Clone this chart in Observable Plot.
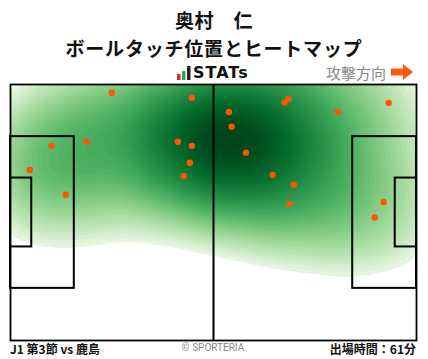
<!DOCTYPE html>
<html><head><meta charset="utf-8">
<script src="https://cdn.jsdelivr.net/npm/d3@7"></script>
<script src="https://cdn.jsdelivr.net/npm/@observablehq/plot@0.6"></script>
<style>
body{margin:0;background:#fff;font-family:"Noto Sans CJK JP","Noto Sans",sans-serif;}
#wrap{position:relative;width:428px;height:359px;overflow:hidden}
.t{position:absolute;white-space:nowrap;line-height:1}
#wrap svg{position:absolute;left:0;top:0}
</style></head><body><div id="wrap"></div>
<script>
// Ball touch positions (metres; x along pitch length 0-105, y across width 0-68 from top)
const touchX = [26.2, 46.9, 10.6, 19.7, 43.3, 46.9, 46.4, 44.8, 5.0, 14.3,
                56.5, 57.2, 70.9, 71.9, 84.6, 97.8, 60.9, 67.8, 73.3, 72.2, 96.5, 94.2];
const touchY = [2.2, 3.5, 16.3, 15.2, 15.2, 16.3, 20.8, 24.3, 22.7, 29.3,
                7.3, 11.2, 4.8, 3.8, 7.3, 4.9, 18.1, 24.0, 26.6, 31.7, 31.2, 35.3];
// Pitch geometry (metres)
const pitchLength = 105, pitchWidth = 68;
const boxX1 = [0, 88.5, 0, 99.5];
const boxX2 = [16.5, 105, 5.5, 105];
const boxY1 = [13.85, 13.85, 24.85, 24.85];
const boxY2 = [54.15, 54.15, 43.15, 43.15];

const touches = touchX.map((x, i) => ({x, y: touchY[i]}));
const boxes = boxX1.map((x1, i) => ({x1, x2: boxX2[i], y1: boxY1[i], y2: boxY2[i]}));

// heat colour ramp: below the cut-off stays white
const cut = 0.12;
const heat = t => t < cut ? "#ffffff" : d3.interpolateGreens(0.02 + 0.98 * Math.pow((t - cut) / (1 - cut), 0.6));

const W = 428, H = 359;
const plot = Plot.plot({
  width: W, height: H,
  marginLeft: 10, marginRight: 12, marginTop: 84, marginBottom: 19,
  x: {domain: [0, pitchLength], axis: null},
  y: {domain: [0, pitchWidth], reverse: true, axis: null},
  color: {type: "linear", interpolate: heat},
  style: {background: "transparent"},
  marks: [
    Plot.density(touches, {x: "x", y: "y", fill: "density", bandwidth: 46, thresholds: 60, clip: true}),
    Plot.rect(boxes, {x1: "x1", x2: "x2", y1: "y1", y2: "y2", fill: "none", stroke: "#000", strokeWidth: 2}),
    Plot.ruleX([pitchLength / 2], {stroke: "#000", strokeWidth: 2}),
    Plot.frame({stroke: "#000", strokeWidth: 1.8}),
    Plot.dot(touches, {x: "x", y: "y", r: 3.2, fill: "#ff5500", stroke: "none"})
  ]
});
const wrap = document.getElementById("wrap");
wrap.appendChild(plot);

function txt(s, x, y, size, opts = {}) {
  const d = document.createElement("div");
  d.className = "t";
  d.textContent = s;
  d.style.fontSize = size + "px";
  d.style.top = (y - size / 2) + "px";
  d.style.fontWeight = opts.weight || "bold";
  d.style.color = opts.color || "#111";
  if (opts.align === "center") { d.style.left = x + "px"; d.style.transform = "translateX(-50%)"; }
  else if (opts.align === "right") { d.style.right = (W - x) + "px"; }
  else d.style.left = x + "px";
  if (opts.family) d.style.fontFamily = opts.family;
  if (opts.ls) d.style.letterSpacing = opts.ls;
  wrap.appendChild(d);
  return d;
}
txt("奥村　仁", 214, 19, 19, {align: "center", ls: "0.5px"});
txt("ボールタッチ位置とヒートマップ", 214, 47, 19, {align: "center", ls: "0.8px"});
txt("STATs", 193, 73, 16, {family: "'DejaVu Sans', sans-serif", ls: "1px"});
txt("攻撃方向", 326, 72, 15, {color: "#888", weight: "normal"});
txt("J1 第3節 vs 鹿島", 10, 349, 12);
txt("© SPORTERIA", 213, 348, 10, {align: "center", weight: "normal", color: "#888", family: "Roboto, sans-serif"});
txt("出場時間：61分", 416, 349, 12, {align: "right"});

// logo bars and arrow (decoration)
const ns = "http://www.w3.org/2000/svg";
const deco = document.createElementNS(ns, "svg");
deco.setAttribute("width", W); deco.setAttribute("height", H);
deco.style.position = "absolute"; deco.style.left = "0"; deco.style.top = "0";
deco.innerHTML = `
  <rect x="177" y="74" width="3.5" height="6" fill="#e8232a"/>
  <rect x="182" y="71" width="3.5" height="9" fill="#2fa84f"/>
  <rect x="187" y="66" width="3.5" height="14" fill="#222"/>
  <path d="M391,68.5 H403 V64 L413,72 L403,80 V75.5 H391 Z" fill="#ff5a0a"/>`;
wrap.appendChild(deco);
</script></body></html>
